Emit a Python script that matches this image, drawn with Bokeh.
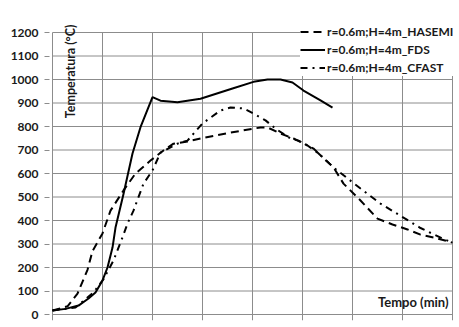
import math
from bokeh.plotting import figure
from bokeh.models import Label, Legend, LegendItem, FixedTicker
from bokeh.embed import file_html
from bokeh.resources import INLINE

# Time (min) and temperature (°C) series
hasemi_t = [0, 3, 5, 7, 8, 10, 11.6, 14.2, 16.6, 19.6, 22.2, 24.2, 27, 29.6, 35.6, 41.6, 43,
            45.6, 48.2, 51, 53, 56.2, 58.2, 61.6, 65, 68, 71, 73.6, 76.2, 80]
hasemi_T = [17, 35, 89, 190, 270, 345, 442, 528, 600, 655, 698, 727, 736, 749, 774, 796, 796,
            770, 749, 719, 689, 626, 557, 485, 408, 383, 362, 340, 328, 306]

fds_t = [0, 2.6, 5.2, 7.2, 8.6, 10, 11, 12, 12.6, 14.2, 16, 17.6, 20, 21.6, 25, 29.6, 36, 40.2,
         43, 45.6, 48, 50.2, 53.6, 56]
fds_T = [17, 24, 38, 68, 94, 145, 200, 285, 370, 513, 685, 797, 925, 910, 903, 918, 962, 990,
         1000, 1000, 987, 953, 911, 880]

cfast_t = [0, 4.6, 8.2, 10.2, 12.2, 14, 15, 16.2, 18.2, 20, 21.6, 25, 27, 30, 33.6, 35.6, 38.2,
           40.2, 42.6, 44.6, 47.6, 49.2, 52.2, 56.2, 61.6, 65.6, 69.6, 73.6, 78, 80]
cfast_T = [17, 30, 94, 150, 230, 328, 387, 442, 557, 613, 689, 727, 740, 813, 868, 881, 877,
           855, 826, 791, 749, 740, 706, 626, 536, 472, 420, 368, 323, 306]

x_ticks = [0, 10, 20, 30, 40, 50, 60, 70, 80]
y_ticks = [0, 100, 200, 300, 400, 500, 600, 700, 800, 900, 1000, 1100, 1200]

labels = ["r=0.6m;H=4m_HASEMI", "r=0.6m;H=4m_FDS", "r=0.6m;H=4m_CFAST"]

FONT = "Lato"
GRID = "#8c8c8c"
Y_MIN, Y_MAX = y_ticks[0], y_ticks[-1]

p = figure(width=459, height=327, x_range=(-0.6, 81.4), y_range=(-25.5, 1276.6),
           output_backend="svg", toolbar_location=None,
           min_border_left=49, min_border_right=0, min_border_top=14, min_border_bottom=7)
p.outline_line_color = None
p.background_fill_color = "white"
p.border_fill_color = "white"

p.xaxis.visible = False
p.xgrid.visible = False
p.yaxis.ticker = FixedTicker(ticks=y_ticks)
p.ygrid.ticker = FixedTicker(ticks=y_ticks)
p.ygrid.grid_line_color = None

# grid lines spanning only the 0..80 x 0..1200 area (vertical ones with tick stubs)
p.segment(x0=[x_ticks[0]] * len(y_ticks), y0=y_ticks, x1=[x_ticks[-1]] * len(y_ticks), y1=y_ticks,
          line_color=GRID, line_width=1)
p.segment(x0=x_ticks, y0=[-25.5] * len(x_ticks), x1=x_ticks, y1=[Y_MAX] * len(x_ticks),
          line_color=GRID, line_width=1)

p.yaxis.bounds = (Y_MIN, Y_MAX)
p.yaxis.axis_line_color = None
p.yaxis.major_tick_line_color = GRID
p.yaxis.minor_tick_line_color = None
p.yaxis.major_tick_in = 0
p.yaxis.major_tick_out = 5
p.yaxis.major_label_text_font = FONT
p.yaxis.major_label_text_font_style = "bold"
p.yaxis.major_label_text_font_size = "12px"
p.yaxis.major_label_text_color = "#1a1a1a"
p.yaxis.major_label_standoff = 6

r_h = p.line(hasemi_t, hasemi_T, line_color="black", line_width=2, line_dash="8 5")
r_f = p.line(fds_t, fds_T, line_color="black", line_width=2)
r_c = p.line(cfast_t, cfast_T, line_color="black", line_width=2, line_dash="7 5 2 5")

legend = Legend(items=[LegendItem(label=labels[0], renderers=[r_h]),
                       LegendItem(label=labels[1], renderers=[r_f]),
                       LegendItem(label=labels[2], renderers=[r_c])],
                location=(251, 244), orientation="vertical",
                label_text_font=FONT, label_text_font_style="bold",
                label_text_font_size="12px", label_text_color="#1a1a1a",
                glyph_width=25, glyph_height=17, label_height=17, label_standoff=2,
                spacing=1, padding=1, margin=0,
                background_fill_color="white", background_fill_alpha=1,
                border_line_color=None)
p.add_layout(legend, "center")

p.add_layout(Label(x=3.6, y=1234, text="Temperatura (°C)", angle=math.pi / 2,
                   text_align="right", text_baseline="middle",
                   text_font=FONT, text_font_style="bold", text_font_size="12.5px",
                   text_color="#1a1a1a"))
p.add_layout(Label(x=79.2, y=55, text="Tempo (min)", text_align="right",
                   text_baseline="middle", text_font=FONT, text_font_style="bold",
                   text_font_size="13px", text_color="#1a1a1a"))

open("out.html", "w").write(file_html(p, INLINE))
